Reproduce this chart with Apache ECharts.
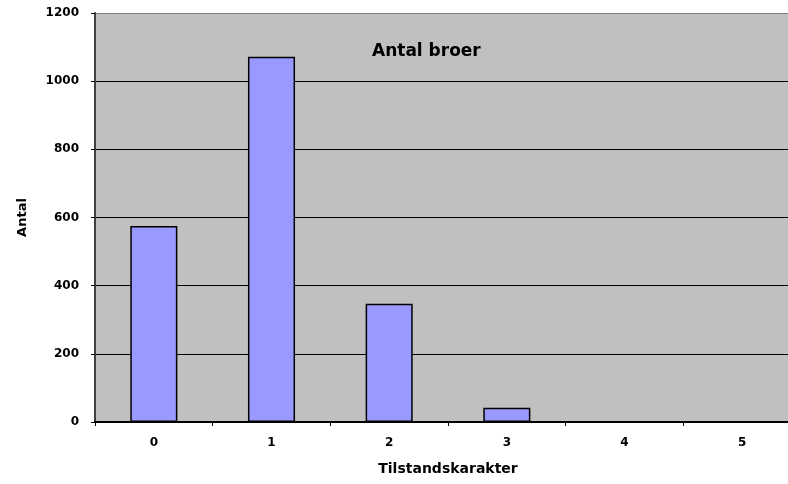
<!DOCTYPE html>
<html><head><meta charset="utf-8">
<script src="https://cdn.jsdelivr.net/npm/echarts@6/dist/echarts.min.js"></script>
<style>html,body{margin:0;padding:0;background:#fff}#c{width:788px;height:484px}</style>
</head><body><div id="c"></div>
<script>
const categories = ['0','1','2','3','4','5'];
const values = [575, 1072, 347, 42, 0, 0];
const yTicks = [0, 200, 400, 600, 800, 1000, 1200];
const titleText = 'Antal broer';
const xName = 'Tilstandskarakter';
const yName = 'Antal';

const chart = echarts.init(document.getElementById('c'));
const font = 'DejaVu Sans';
chart.setOption({
  animation: false,
  backgroundColor: '#ffffff',
  title: {
    text: titleText, left: 367, top: 38,
    textStyle: {fontFamily: font, fontWeight: 'bold', fontSize: 17, color: '#000'}
  },
  grid: {left: 95, top: 13, width: 706, height: 409, outerBoundsMode: 'none', show: true, backgroundColor: '#C0C0C0', borderWidth: 0, containLabel: false},
  xAxis: {
    type: 'category', data: categories,
    name: xName, nameLocation: 'middle', nameGap: 40,
    nameTextStyle: {fontFamily: font, fontWeight: 'bold', fontSize: 14, color: '#000'},
    axisLine: {lineStyle: {color: '#000', width: 2}},
    axisTick: {show: true, length: 4, lineStyle: {color: '#000'}},
    axisLabel: {fontFamily: font, fontWeight: 'bold', fontSize: 12, color: '#000', margin: 15}
  },
  yAxis: {
    type: 'value', min: yTicks[0], max: yTicks[yTicks.length-1], interval: 200,
    name: yName, nameLocation: 'middle', nameGap: 66, nameRotate: 90,
    nameTextStyle: {fontFamily: font, fontWeight: 'bold', fontSize: 13, color: '#000'},
    axisLine: {show: true, lineStyle: {color: '#404040', width: 2}},
    axisTick: {show: true, length: 4, lineStyle: {color: '#000'}},
    axisLabel: {fontFamily: font, fontWeight: 'bold', fontSize: 12, color: '#000', margin: 16, formatter: v => String(v)},
    splitLine: {show: true, lineStyle: {color: ['#000','#000','#000','#000','#000','#000','#808080'], width: 1}}
  },
  series: [{
    type: 'bar', data: values, barWidth: '40%',
    itemStyle: {color: '#9999FF', borderColor: '#000', borderWidth: 1.5}
  }]
});
</script></body></html>
